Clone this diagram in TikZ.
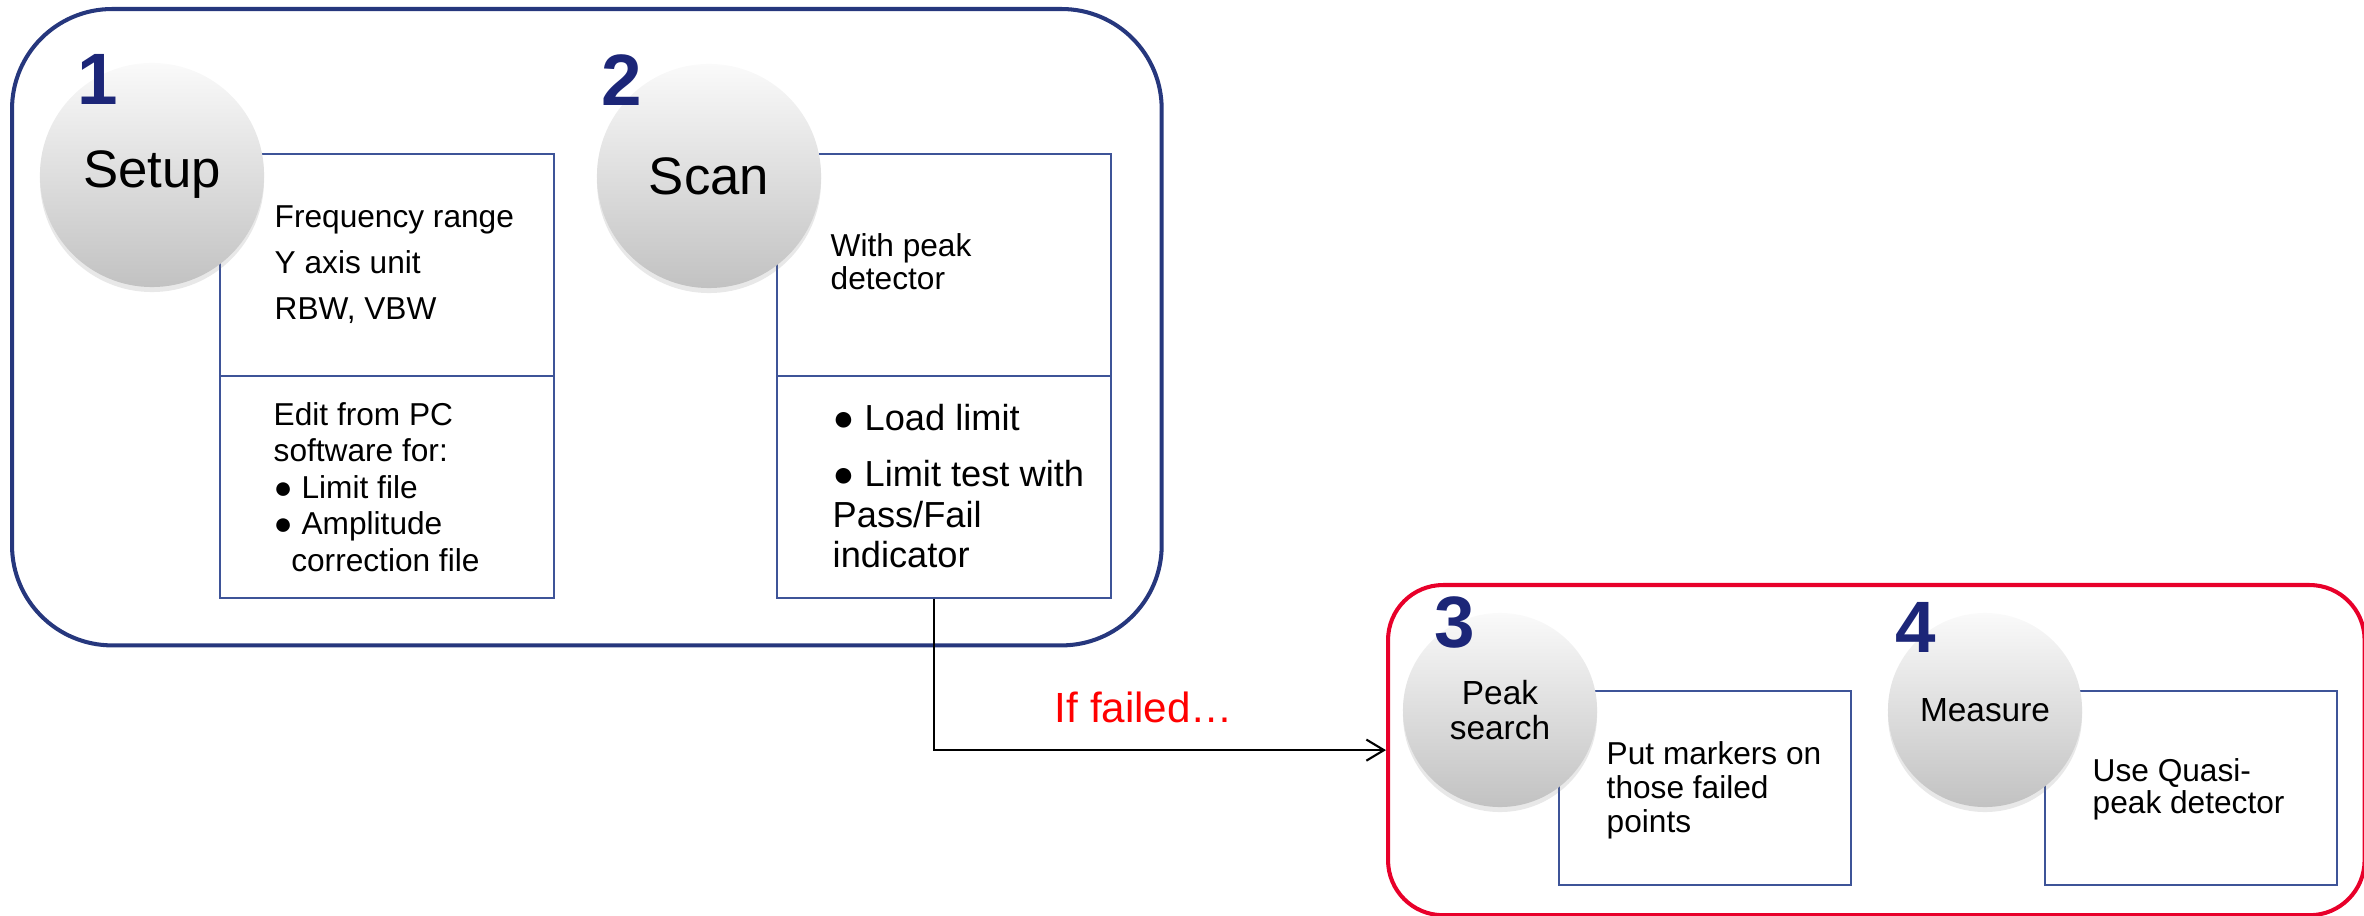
\documentclass[tikz,border=0pt]{standalone}
\usepackage{fontspec}
\setmainfont{Liberation Sans}
\usetikzlibrary{arrows.meta,shadows}
\definecolor{framenavy}{RGB}{38,55,125}
\definecolor{boxline}{RGB}{62,84,152}
\definecolor{numblue}{RGB}{28,38,120}
\definecolor{failred}{RGB}{232,0,42}
\tikzset{
  groupframe/.style={line width=1.15pt, inner sep=0pt, anchor=north west},
  stepball/.style={circle, inner sep=0pt, top color=gray!4, bottom color=gray!48,
                   drop shadow={opacity=0.18, shadow xshift=0pt, shadow yshift=-0.05cm}},
  bigball/.style={stepball, minimum size=2.24cm, font=\fontsize{15}{18}\selectfont},
  smallball/.style={stepball, minimum size=1.94cm, align=center,
                    font=\fontsize{9.5}{9.8}\selectfont},
  stepnum/.style={font=\fontsize{20.7}{22}\selectfont\bfseries, text=numblue, inner sep=0pt},
  infobox/.style={draw=boxline, line width=0.45pt, fill=white, anchor=north west, inner sep=0pt},
  boxtext/.style={font=\fontsize{9}{13.1}\selectfont, align=left, anchor=west, inner sep=0pt},
  flowarrow/.style={line width=0.6pt, -{Straight Barb[length=5pt, width=6pt]}},
}
\begin{document}
\begin{tikzpicture}[x=0.01cm, y=-0.01cm]
  \useasboundingbox (0,0) rectangle (2364,916);
  % rahmen der beiden phasen
  \node[groupframe, draw=framenavy, rounded corners=1cm,
        minimum width=11.49cm, minimum height=6.36cm] (scanframe) at (10,7) {};
  \node[groupframe, draw=failred, rounded corners=0.55cm,
        minimum width=9.76cm, minimum height=3.30cm] (failframe) at (1386,583) {};
  % kaesten
  \node[infobox, minimum width=3.34cm, minimum height=2.22cm] (setupA) at (219,153) {};
  \node[infobox, minimum width=3.34cm, minimum height=2.22cm] (setupB) at (219,375) {};
  \node[infobox, minimum width=3.34cm, minimum height=2.22cm] (scanA) at (776,153) {};
  \node[infobox, minimum width=3.34cm, minimum height=2.22cm] (scanB) at (776,375) {};
  \node[infobox, minimum width=2.92cm, minimum height=1.94cm] (peakbox) at (1558,690) {};
  \node[infobox, minimum width=2.92cm, minimum height=1.94cm] (measbox) at (2044,690) {};
  % kugeln
  \node[bigball] (setupc) at (152,175) {Setup};
  \node[bigball] (scanc) at (709,176) {Scan};
  \node[smallball] (peakc) at (1500,710) {Peak\\search};
  \node[smallball] (measc) at (1985,710) {Measure};
  \node[stepnum] (num1) at (98,79) {1};
  \node[stepnum] (num2) at (622,80) {2};
  \node[stepnum] (num3) at (1455,622) {3};
  \node[stepnum] (num4) at (1916,627) {4};
  % texte
  \node[boxtext] (freqtxt) at (274,265) {Frequency range\\Y axis unit\\RBW, VBW};
  \node[boxtext, font=\fontsize{9}{10.4}\selectfont] (edittxt) at (273,487)
    {Edit from PC\\software for:\\● Limit file\\● Amplitude\\\hspace*{5pt}correction file};
  \node[boxtext, font=\fontsize{9}{9.4}\selectfont] (peaktxt) at (830,262) {With peak\\detector};
  \node[boxtext, font=\fontsize{10.3}{11.4}\selectfont] (limittxt) at (832,486)
    {● Load limit\\[4.6pt]● Limit test with\\Pass/Fail\\indicator};
  \node[boxtext, font=\fontsize{9}{9.7}\selectfont] (markertxt) at (1606,790)
    {Put markers on\\those failed\\points};
  \node[boxtext, font=\fontsize{9}{9.2}\selectfont] (quasitxt) at (2092,789)
    {Use Quasi-\\peak detector};
  % verbindung
  \draw[flowarrow] ([xshift=-0.1cm]scanB.south) |- (failframe.west);
  \node[font=\fontsize{12}{14}\selectfont, text=red, inner sep=0pt] (failnote) at (1144,707) {If failed…};
\end{tikzpicture}
\end{document}
